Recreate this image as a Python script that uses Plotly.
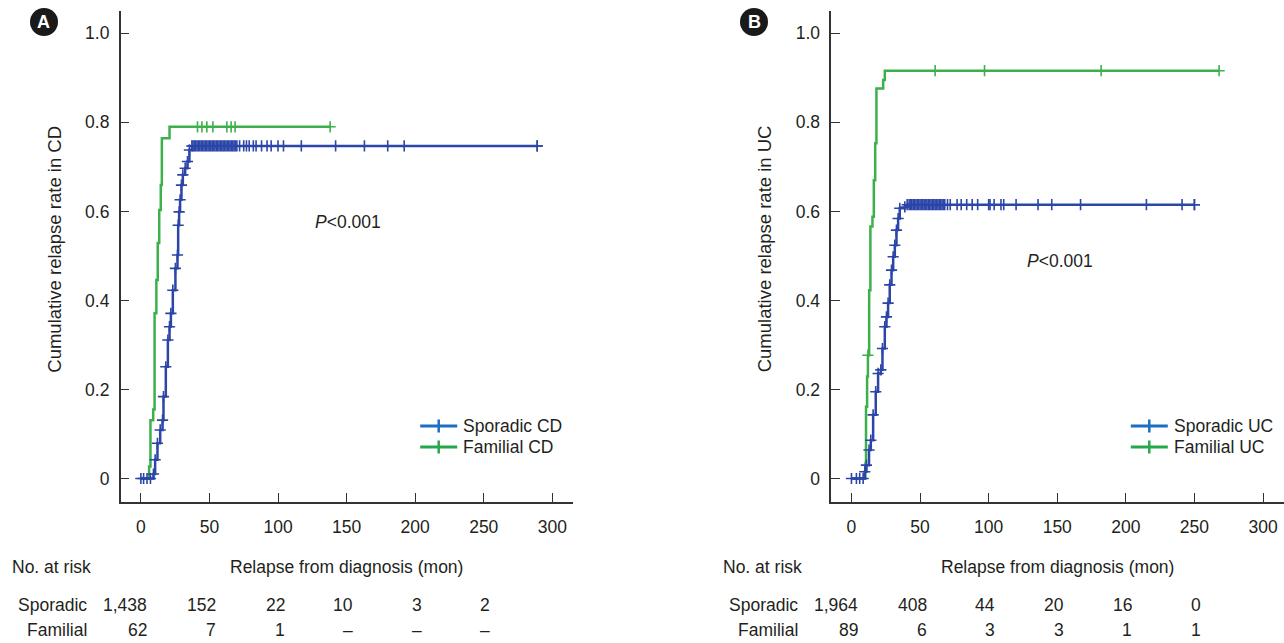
import numpy as np
import plotly.graph_objects as go

W, H = 1284, 643

# ---------------- data ----------------
x_ticks = [0, 50, 100, 150, 200, 250, 300]
y_tick_vals = [0, 0.2, 0.4, 0.6, 0.8, 1.0]
y_tick_text = ["0", "0.2", "0.4", "0.6", "0.8", "1.0"]

# Panel A (CD)
cd_sporadic_time = [0, 9.2, 10.4, 12.1, 14.1, 15.8, 16.5, 18.2, 19.7, 20.9, 21.9, 23.3, 25.2,
                    26.7, 27.2, 27.9, 28.6, 29.6, 30.6, 32.3, 34.0, 35.4, 37.2, 289]
cd_sporadic_rate = [0, 0.01, 0.042, 0.079, 0.109, 0.131, 0.184, 0.251, 0.311, 0.341, 0.371, 0.423, 0.472,
                    0.502, 0.569, 0.599, 0.626, 0.659, 0.682, 0.697, 0.712, 0.738, 0.747, 0.747]
cd_sporadic_censor = [2, 4.5, 7, 38, 39, 40, 41, 42, 43, 44, 45, 46, 47, 48, 49, 50, 51, 52, 53, 54, 55,
                      56, 57, 58, 59, 60, 61, 62, 63, 64, 65, 66, 67, 68, 69, 70, 72, 75, 77, 79, 82,
                      84, 88, 92, 95, 100, 104, 117, 142, 163, 180, 192, 289]

cd_familial_time = [0, 6.0, 7.0, 9.0, 10.0, 11.3, 12.3, 13.4, 14.5, 15.3, 20.9, 138]
cd_familial_rate = [0, 0.027, 0.131, 0.155, 0.371, 0.446, 0.529, 0.603, 0.659, 0.764, 0.790, 0.790]
cd_familial_censor = [41.3, 44.5, 48.1, 52.5, 62.7, 65.8, 68.7, 138]

# Panel B (UC)
uc_sporadic_time = [0, 8.5, 9.7, 10.9, 12.8, 14.1, 15.8, 17.7, 19.4, 21.4, 22.6, 24.3, 25.5, 26.7,
                    27.9, 29.2, 30.4, 31.6, 32.8, 34.0, 35.2, 38.9, 40.6, 250]
uc_sporadic_rate = [0, 0, 0.015, 0.030, 0.064, 0.086, 0.143, 0.195, 0.236, 0.244, 0.292, 0.341, 0.363,
                    0.394, 0.435, 0.468, 0.498, 0.524, 0.558, 0.584, 0.607, 0.610, 0.615, 0.615]
uc_sporadic_censor = [3.6, 6, 42, 43, 44, 45, 46, 47, 48, 49, 50, 51, 52, 53, 54, 55, 56, 57, 58, 59,
                      60, 61, 62, 63, 64, 65, 66, 67, 68, 70, 72, 77, 80, 84, 88, 92, 100, 101, 104,
                      109, 111, 120, 136, 146, 167, 215, 241, 250]

uc_familial_time = [0, 10.2, 10.6, 11.4, 12.0, 12.9, 13.8, 15.3, 16.3, 17.3, 18.2, 23.1, 24.3, 268]
uc_familial_rate = [0, 0.034, 0.161, 0.229, 0.277, 0.423, 0.566, 0.588, 0.670, 0.753, 0.876, 0.895,
                    0.916, 0.916]
uc_familial_censor = [12.0, 61, 97, 182, 268]

risk_times = [0, 50, 100, 150, 200, 250]
cd_risk_sporadic = ["1,438", "152", "22", "10", "3", "2"]
cd_risk_familial = ["62", "7", "1", "–", "–", "–"]
uc_risk_sporadic = ["1,964", "408", "44", "20", "16", "0"]
uc_risk_familial = ["89", "6", "3", "3", "1", "1"]

# ---------------- style ----------------
FONT = "Liberation Sans, Arial, sans-serif"
FS = 17.5
TXT = "#231f20"
AX = "#333333"
BLUE = "#2b45a8"
GREEN = "#3cb04b"
BLUE_LEG = "#1b6fbf"
GREEN_LEG = "#25a84a"


def px(x):
    return x / W


def py(y):
    return 1 - y / H


def step_value(times, rates, t):
    i = np.searchsorted(np.asarray(times), t, side="right") - 1
    return [rates[k] for k in np.clip(i, 0, len(rates) - 1)]


fig = go.Figure()


def add_curve(times, rates, censor, color, xa, ya, rise_markers):
    fig.add_trace(go.Scatter(
        x=times, y=rates, mode="lines+markers" if rise_markers else "lines",
        line=dict(color=color, width=2.5, shape="hv"),
        marker=dict(symbol="cross-thin", size=8, line=dict(color=color, width=1.6)),
        xaxis=xa, yaxis=ya, showlegend=False, hoverinfo="skip"))
    fig.add_trace(go.Scatter(
        x=censor, y=step_value(times, rates, censor), mode="markers",
        marker=dict(symbol="cross-thin", size=8, line=dict(color=color, width=1.6)),
        xaxis=xa, yaxis=ya, showlegend=False, hoverinfo="skip"))


add_curve(cd_familial_time, cd_familial_rate, cd_familial_censor, GREEN, "x", "y", False)
add_curve(cd_sporadic_time, cd_sporadic_rate, cd_sporadic_censor, BLUE, "x", "y", True)
add_curve(uc_familial_time, uc_familial_rate, uc_familial_censor, GREEN, "x2", "y2", False)
add_curve(uc_sporadic_time, uc_sporadic_rate, uc_sporadic_censor, BLUE, "x2", "y2", True)

axis_common = dict(
    showline=True, linecolor=AX, linewidth=1.5, ticks="inside", ticklen=9, tickwidth=1.3,
    tickcolor=AX, showgrid=False, zeroline=False, tickfont=dict(family=FONT, size=FS, color=TXT),
)
XR = [-14.7, 315.3]
YR = [-0.0528, 1.0501]
YD = [py(502), py(11)]

fig.update_layout(
    width=W, height=H, margin=dict(l=0, r=0, t=0, b=0),
    paper_bgcolor="white", plot_bgcolor="white", showlegend=False,
    font=dict(family=FONT, size=FS, color=TXT),
    xaxis=dict(domain=[px(120.7), px(573.3)], range=XR, tickvals=x_ticks, anchor="y",
               ticklabelstandoff=8, **axis_common),
    yaxis=dict(domain=YD, range=YR, tickvals=y_tick_vals, ticktext=y_tick_text, anchor="x",
               ticklabelstandoff=6, **axis_common),
    xaxis2=dict(domain=[px(831.3), 1.0], range=XR, tickvals=x_ticks, anchor="y2",
                ticklabelstandoff=8, **axis_common),
    yaxis2=dict(domain=YD, range=YR, tickvals=y_tick_vals, ticktext=y_tick_text, anchor="x2",
                ticklabelstandoff=6, **axis_common),
)

ann = []
shapes = []

panels = [
    dict(xa="x", ya="y", ax0=120.7, letter="A", cx=44, title="Cumulative relapse rate in CD",
         p_x=125.6, p_y=0.576, legend=["Sporadic CD", "Familial CD"],
         risk=[cd_risk_sporadic, cd_risk_familial]),
    dict(xa="x2", ya="y2", ax0=831.3, letter="B", cx=754, title="Cumulative relapse rate in UC",
         p_x=126.4, p_y=0.4885, legend=["Sporadic UC", "Familial UC"],
         risk=[uc_risk_sporadic, uc_risk_familial]),
]


def A(**kw):
    kw.setdefault("showarrow", False)
    kw.setdefault("yanchor", "middle")
    kw.setdefault("xanchor", "center")
    ann.append(kw)


for p in panels:
    a0 = p["ax0"]
    # panel letter badge
    shapes.append(dict(type="circle", xref="paper", yref="paper",
                       x0=px(p["cx"] - 14), x1=px(p["cx"] + 14), y0=py(36), y1=py(8),
                       fillcolor="#1a1a1a", line=dict(width=0)))
    A(text="<b>%s</b>" % p["letter"], xref="paper", yref="paper", x=px(p["cx"]), y=py(22.5),
      font=dict(family="Liberation Sans, Arial, sans-serif", size=18, color="white"))
    # y title
    A(text=p["title"], xref="paper", yref="paper", x=px(a0 - 67), y=py(249),
      textangle=-90, font=dict(size=18.5))
    # p-value
    A(text="<i>P</i>&lt;0.001", xref=p["xa"], yref=p["ya"], x=p["p_x"], y=p["p_y"],
      xanchor="left")
    # legend
    for k, (lab, col) in enumerate(zip(p["legend"], [BLUE_LEG, GREEN_LEG])):
        yy = 426 + 21 * k
        lx0 = a0 + 299.5
        lx1 = a0 + 336.5
        shapes.append(dict(type="line", xref="paper", yref="paper", x0=px(lx0), x1=px(lx1),
                           y0=py(yy), y1=py(yy), line=dict(color=col, width=3)))
        shapes.append(dict(type="line", xref="paper", yref="paper", x0=px((lx0 + lx1) / 2),
                           x1=px((lx0 + lx1) / 2), y0=py(yy - 6.5), y1=py(yy + 6.5),
                           line=dict(color=col, width=2.5)))
        A(text=lab, xref="paper", yref="paper", x=px(a0 + 340.5), y=py(yy), xanchor="left")
    # risk table
    A(text="No. at risk", xref="paper", yref="paper", x=px(a0 - 110.7), y=py(566.7),
      xanchor="left")
    A(text="Relapse from diagnosis (mon)", xref=p["xa"], yref="paper", x=150, y=py(566.7))
    for r, (lab, vals) in enumerate(zip(["Sporadic", "Familial"], p["risk"])):
        yy = 604.5 + 25.5 * r
        A(text=lab, xref="paper", yref="paper", x=px(a0 - 31.5), y=py(yy), xanchor="right")
        for t, v in zip(risk_times, vals):
            A(text=v, xref=p["xa"], yref="paper", x=t, y=py(yy), xanchor="right", xshift=8.5)

fig.update_layout(annotations=ann, shapes=shapes)
fig.write_html("out.html")
